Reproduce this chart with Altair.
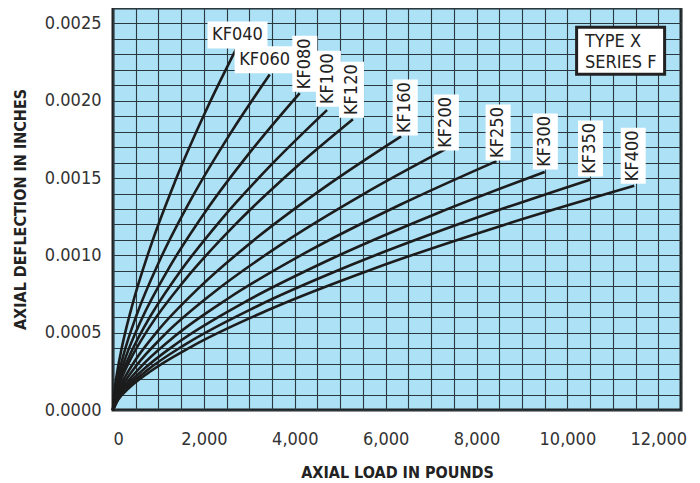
import altair as alt
import pandas as pd

# ---- curve data ----
KF040_load = [0, 27, 82, 190, 408, 816, 1360, 2040, 2720]
KF040_defl = [0, 0.000109, 0.000226, 0.000397, 0.000661, 0.001049, 0.001474, 0.001932, 0.00234]
KF060_load = [0, 35, 104, 242, 518, 1035, 1725, 2588, 3450]
KF060_defl = [0, 0.000101, 0.000209, 0.000368, 0.000613, 0.000972, 0.001367, 0.001791, 0.00217]
KF080_load = [0, 41, 123, 288, 617, 1233, 2055, 3083, 4110]
KF080_defl = [0, 0.0000951, 0.000198, 0.000348, 0.000579, 0.000919, 0.001292, 0.001692, 0.00205]
KF100_load = [0, 47, 141, 330, 707, 1413, 2355, 3533, 4710]
KF100_defl = [0, 0.0000900, 0.000187, 0.000329, 0.000548, 0.000869, 0.001222, 0.001601, 0.00194]
KF120_load = [0, 53, 158, 370, 792, 1584, 2640, 3960, 5280]
KF120_defl = [0, 0.0000872, 0.000181, 0.000319, 0.000531, 0.000842, 0.001184, 0.001552, 0.00188]
KF160_load = [0, 63, 190, 444, 951, 1902, 3170, 4755, 6340]
KF160_defl = [0, 0.0000821, 0.000171, 0.000301, 0.000500, 0.000793, 0.001115, 0.001461, 0.00177]
KF200_load = [0, 73, 220, 514, 1101, 2202, 3670, 5505, 7340]
KF200_defl = [0, 0.0000784, 0.000163, 0.000287, 0.000477, 0.000757, 0.001065, 0.001395, 0.00169]
KF250_load = [0, 84, 253, 591, 1266, 2532, 4220, 6330, 8440]
KF250_defl = [0, 0.0000747, 0.000155, 0.000273, 0.000455, 0.000721, 0.001014, 0.001329, 0.00161]
KF300_load = [0, 95, 285, 665, 1425, 2850, 4750, 7125, 9500]
KF300_defl = [0, 0.0000715, 0.000149, 0.000261, 0.000435, 0.000690, 0.000970, 0.001271, 0.00154]
KF350_load = [0, 105, 315, 735, 1575, 3150, 5250, 7875, 10500]
KF350_defl = [0, 0.0000691, 0.000144, 0.000253, 0.000421, 0.000668, 0.000939, 0.001230, 0.00149]
KF400_load = [0, 115, 344, 803, 1721, 3441, 5735, 8603, 11470]
KF400_defl = [0, 0.0000673, 0.000140, 0.000246, 0.000409, 0.000650, 0.000914, 0.001197, 0.00145]

series_names = ["KF040", "KF060", "KF080", "KF100", "KF120", "KF160",
                "KF200", "KF250", "KF300", "KF350", "KF400"]

# curve label anchors (load, deflection) and orientation
label_load = [2740, 3337, 4221, 4740, 5249, 6431, 7337, 8475, 9514, 10508, 11448]
label_defl = [0.002426, 0.002265, 0.002239, 0.002143, 0.002072, 0.001956,
              0.00186, 0.001795, 0.001737, 0.001692, 0.001644]
label_rotated = [False, False, True, True, True, True, True, True, True, True, True]

# TYPE X / SERIES F note
note_lines = ["TYPE X", "SERIES F"]
note_load = [10387, 10387]
note_defl = [0.002381, 0.002246]
note_box_load = [11171]
note_box_defl = [0.002323]

# axis ticks / grid
x_grid = [i * 500 for i in range(0, 26)]
y_grid = [round(i * 0.0001, 4) for i in range(0, 27)]

FONT = "Liberation Sans Narrow, DejaVu Sans Condensed, Arial Narrow, sans-serif"

g = globals()
rows = []
for s in series_names:
    for xv, yv in zip(g[s + "_load"], g[s + "_defl"]):
        rows.append({"series": s, "load": xv, "defl": yv})
df = pd.DataFrame(rows)

lab = pd.DataFrame({"name": series_names, "load": label_load,
                    "defl": label_defl, "rot": label_rotated})
note = pd.DataFrame({"t": note_lines, "load": note_load, "defl": note_defl})
note_box = pd.DataFrame({"load": note_box_load, "defl": note_box_defl})

xscale = alt.Scale(domain=[0, 12500], nice=False, zero=False)
yscale = alt.Scale(domain=[0, 0.0026], nice=False, zero=False)

xaxis = alt.Axis(values=x_grid, grid=True, gridColor="#2a3940", gridWidth=1.1,
                 ticks=False, domain=False, labelPadding=20,
                 labelExpr="datum.value % 2000 == 0 ? format(datum.value, ',') : ''",
                 labelFont=FONT, labelFontSize=18, labelColor="#333",
                 title="AXIAL LOAD IN POUNDS", titleFont=FONT, titleFontSize=16,
                 titleFontWeight="bold", titleColor="#222", titlePadding=16)
yaxis = alt.Axis(values=y_grid, grid=True, gridColor="#2a3940", gridWidth=1.1,
                 ticks=False, domain=False, labelPadding=12,
                 labelExpr="round(datum.value * 10000) % 5 == 0 ? format(datum.value, '.4f') : ''",
                 labelFont=FONT, labelFontSize=18, labelColor="#333",
                 title="AXIAL DEFLECTION IN INCHES", titleFont=FONT, titleFontSize=16,
                 titleFontWeight="bold", titleColor="#222", titlePadding=16)

lines = alt.Chart(df).mark_line(color="#1c1c1c", strokeWidth=2.6,
                                interpolate="monotone").encode(detail="series:N")

hbox = alt.Chart(lab).transform_filter("!datum.rot").mark_rect(
    fill="white", width=60, height=27)
vbox = alt.Chart(lab).transform_filter("datum.rot").mark_rect(
    fill="white", width=25, height=56)
htext = alt.Chart(lab).transform_filter("!datum.rot").mark_text(
    font=FONT, fontSize=18, color="#222", align="center", baseline="middle"
).encode(text="name:N")
vtext = alt.Chart(lab).transform_filter("datum.rot").mark_text(
    font=FONT, fontSize=18, color="#222", align="center", baseline="middle",
    angle=270).encode(text="name:N")

leg_box = alt.Chart(note_box).mark_rect(
    fill="white", stroke="#222", strokeWidth=3, width=88, height=47)
leg_text = alt.Chart(note).mark_text(
    font=FONT, fontSize=18, color="#222", align="left", baseline="middle"
).encode(text="t:N")

chart = alt.layer(lines, hbox, vbox, htext, vtext, leg_box, leg_text).encode(
    x=alt.X("load:Q", scale=xscale, axis=xaxis),
    y=alt.Y("defl:Q", scale=yscale, axis=yaxis),
).properties(
    width=568, height=402,
    autosize=alt.AutoSizeParams(type="none"),
    padding={"left": 105, "top": 0, "right": 10, "bottom": 70},
).configure(background="white").configure_view(
    fill="#ade1f6", stroke="#222", strokeWidth=3)

chart.save("out.html", embed_options={"renderer": "svg", "actions": False})
